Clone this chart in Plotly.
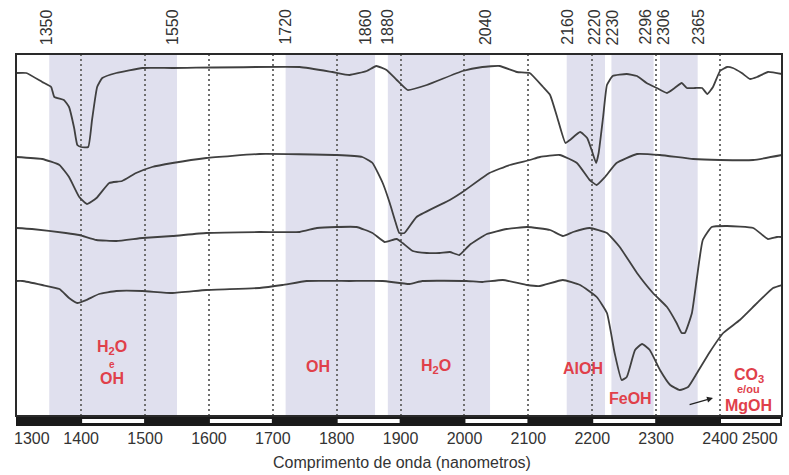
import plotly.graph_objects as go

# ---------------- data ----------------
# wavelength (nm) and offset reflectance (arbitrary units) for the four spectra
wl1 = [1298, 1314, 1339, 1353, 1358, 1373, 1381, 1389, 1394, 1400, 1411, 1417, 1425, 1433, 1455, 1496,
       1543, 1742, 1793, 1820, 1847, 1862, 1878, 1894, 1911, 1941, 1997, 2028, 2055, 2082, 2102, 2123,
       2134, 2145, 2158, 2165, 2181, 2192, 2199, 2206, 2210, 2217, 2223, 2232, 2254, 2270, 2285, 2301,
       2317, 2329, 2340, 2348, 2361, 2372, 2380, 2389, 2400, 2411, 2420, 2434, 2447, 2458, 2475, 2497]
r1 = [343, 343, 334, 329, 319, 316, 309, 288, 271, 269, 269, 296, 329, 338, 343, 348,
      348, 349, 344, 341, 345, 350, 346, 336, 326, 331, 345, 349, 350, 344, 343, 329,
      321, 299, 273, 276, 284, 278, 266, 253, 263, 299, 331, 340, 342, 340, 333, 328,
      323, 328, 333, 328, 328, 328, 322, 329, 345, 349, 348, 343, 337, 339, 344, 342]

wl2 = [1298, 1339, 1366, 1381, 1397, 1409, 1424, 1444, 1464, 1486, 1511, 1543, 1596, 1679, 1800,
       1840, 1856, 1872, 1883, 1892, 1898, 1906, 1925, 1977, 1997, 2039, 2071, 2102, 2118, 2149,
       2176, 2196, 2207, 2220, 2238, 2270, 2306, 2358, 2400, 2452, 2497]
r2 = [259, 257, 251, 239, 219, 212, 218, 233, 235, 243, 249, 253, 258, 262, 261,
      259, 253, 233, 213, 194, 183, 183, 199, 216, 224, 243, 251, 256, 259, 261,
      253, 236, 231, 239, 253, 262, 261, 257, 256, 256, 261]

wl3 = [1298, 1323, 1376, 1397, 1424, 1455, 1496, 1543, 1596, 1679, 1742, 1769, 1800, 1831, 1856,
       1875, 1894, 1903, 1919, 1941, 1961, 1977, 1992, 2008, 2035, 2066, 2098, 2134, 2154, 2170,
       2196, 2223, 2243, 2270, 2295, 2317, 2332, 2340, 2345, 2356, 2364, 2373, 2387, 2411, 2452,
       2475, 2489, 2497]
r3 = [188, 187, 183, 181, 176, 175, 178, 180, 183, 184, 184, 188, 189, 189, 183,
      174, 177, 173, 165, 163, 163, 164, 161, 171, 182, 187, 189, 186, 180, 184,
      188, 183, 169, 143, 123, 109, 93, 83, 83, 103, 139, 176, 189, 190, 188,
      177, 179, 179]

wl4 = [1298, 1308, 1339, 1366, 1381, 1394, 1408, 1428, 1455, 1496, 1543, 1596, 1679, 1715, 1753,
       1820, 1872, 1914, 1934, 2003, 2028, 2060, 2098, 2118, 2154, 2181, 2207, 2223, 2235, 2246,
       2254, 2267, 2278, 2290, 2306, 2322, 2337, 2350, 2364, 2384, 2405, 2431, 2458, 2483, 2497]
r4 = [135, 135, 131, 127, 118, 113, 116, 122, 125, 125, 123, 126, 128, 131, 135,
      135, 135, 132, 135, 135, 134, 136, 131, 130, 136, 131, 119, 103, 63, 36,
      39, 66, 72, 66, 46, 31, 26, 29, 43, 64, 83, 96, 113, 128, 131]

# absorption band limits (nm) and their labels on top
band_start = [1350, 1720, 1880, 2160, 2230, 2306]
band_end = [1550, 1860, 2040, 2220, 2296, 2365]
top_labels = [1350, 1550, 1720, 1860, 1880, 2040, 2160, 2220, 2230, 2296, 2306, 2365]
top_shift = [-3, -5, -1, -10, -1, -5, 0, -11, 1, -9, 3, 0]

x_ticks = [1300, 1400, 1500, 1600, 1700, 1800, 1900, 2000, 2100, 2200, 2300, 2400, 2500]

RED = "#e0404a"
TXT = "#333333"
BAND = "#e0e0ee"
LINE = "#404040"
FONT = "Liberation Sans, Arial"

fig = go.Figure()
for wl, r in [(wl1, r1), (wl2, r2), (wl3, r3), (wl4, r4)]:
    fig.add_trace(go.Scatter(x=wl, y=r, mode="lines",
                             line=dict(color=LINE, width=1.8, shape="spline", smoothing=0.4),
                             showlegend=False, hoverinfo="skip"))

shapes = []
for a, b in zip(band_start, band_end):
    shapes.append(dict(type="rect", xref="x", yref="paper", x0=a, x1=b, y0=0, y1=1,
                       fillcolor=BAND, line=dict(width=0), layer="below"))

# scale bar under the plot (alternating black / white)
H = 362.0
shapes.append(dict(type="rect", xref="paper", yref="paper", x0=0, x1=1, y0=-10 / H, y1=0,
                   fillcolor="#1a1a1a", line=dict(width=0), layer="above"))
for i in range(1, len(x_ticks) - 1, 2):
    a = x_ticks[i]
    b = min(x_ticks[i + 1], 2497)
    shapes.append(dict(type="rect", xref="x", yref="paper", x0=a + 1.5, x1=b - 1.5 if b < 2497 else b - 3,
                       y0=-7 / H, y1=-3 / H, fillcolor="white", line=dict(width=0), layer="above"))
# frame
shapes.append(dict(type="rect", xref="paper", yref="paper", x0=0, x1=1, y0=0, y1=1,
                   line=dict(color="#2a2a2a", width=2), fillcolor="rgba(0,0,0,0)", layer="above"))

ann = []
for v, s in zip(top_labels, top_shift):
    ann.append(dict(x=v, xref="x", y=1, yref="paper", yanchor="bottom", xanchor="center", yshift=7, xshift=s,
                    text=str(v), textangle=-90, showarrow=False,
                    font=dict(family=FONT, size=16, color=TXT)))

# end tick labels (squeezed inside in the original)
ann.append(dict(x=0, xref="paper", y=0, yref="paper", yanchor="top", xanchor="center", yshift=-12, xshift=16,
                text=str(x_ticks[0]), showarrow=False, font=dict(family=FONT, size=16, color=TXT)))
ann.append(dict(x=1, xref="paper", y=0, yref="paper", yanchor="top", xanchor="center", yshift=-12, xshift=-22,
                text=str(x_ticks[-1]), showarrow=False, font=dict(family=FONT, size=16, color=TXT)))

ann.append(dict(x=0.504, xref="paper", y=-46 / H, yref="paper", yanchor="middle",
                text="Comprimento de onda (nanometros)",
                showarrow=False, font=dict(family=FONT, size=16, color=TXT)))


def lab(x, y, t, size=16, bold=True):
    ann.append(dict(x=x, y=y, xref="x", yref="y", text=("<b>%s</b>" % t) if bold else t, showarrow=False,
                    font=dict(family=FONT, size=size, color=RED)))


lab(1449, 69, "H<sub>2</sub>O")
lab(1449, 52, "e", size=10)
lab(1449, 38, "OH")
lab(1771, 50, "OH")
lab(1956, 50, "H<sub>2</sub>O")
lab(2185, 48, "AlOH")
lab(2260, 18, "FeOH")
lab(2445, 41, "CO<sub>3</sub>")
lab(2445, 27, "e/ou", size=11)
lab(2445, 11, "MgOH")

ann.append(dict(x=2389, y=18, ax=2350, ay=11, xref="x", yref="y", axref="x", ayref="y", text="",
                showarrow=True, arrowhead=2, arrowsize=1, arrowwidth=1.2, arrowcolor="#222"))

fig.update_layout(
    width=789, height=475,
    margin=dict(l=16, r=7, t=54, b=59),
    paper_bgcolor="white", plot_bgcolor="white",
    shapes=shapes, annotations=ann,
    xaxis=dict(range=[1298, 2497], tickvals=x_ticks[1:-1], ticktext=[str(v) for v in x_ticks[1:-1]],
               showgrid=True, gridcolor="#707070", griddash="2px,3px", gridwidth=1.5,
               ticks="outside", ticklen=8, tickcolor="rgba(0,0,0,0)",
               tickfont=dict(family=FONT, size=16, color=TXT),
               zeroline=False, showline=False),
    yaxis=dict(range=[0, 362], visible=False, showgrid=False, zeroline=False),
)

fig.write_html("out.html", config={"displayModeBar": False},
               post_script="document.body.style.margin='0px';document.body.style.overflow='hidden';")
